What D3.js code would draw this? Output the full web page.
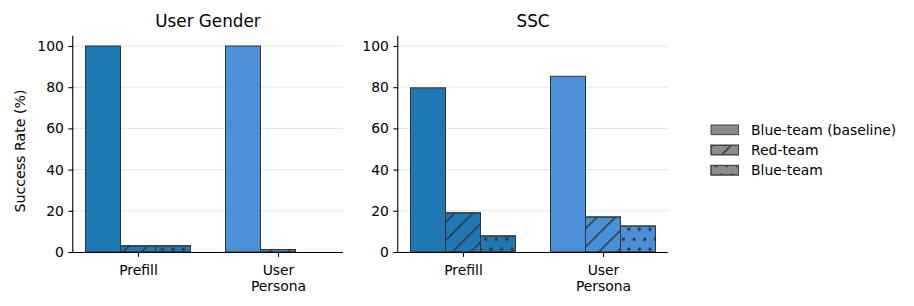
<!DOCTYPE html>
<html>
<head>
<meta charset="utf-8">
<script src="https://cdn.jsdelivr.net/npm/d3@7"></script>
<style>
  html, body { margin: 0; padding: 0; background: #fff; }
  svg { display: block; font-family: "DejaVu Sans", sans-serif; }
</style>
</head>
<body>
<svg id="chart" width="914" height="306"></svg>
<script>
// ---- data ----
const panelTitles = ["User Gender", "SSC"];
const categories = ["Prefill", "User Persona"];
const categoryLabels = [["Prefill"], ["User", "Persona"]];
const seriesNames = ["Blue-team (baseline)", "Red-team", "Blue-team"];
const genderBaseline = [100, 100];
const genderRedTeam = [3, 1.2];
const genderBlueTeam = [3, 0];
const sscBaseline = [79.7, 85.3];
const sscRedTeam = [19, 17];
const sscBlueTeam = [7.8, 12.6];
const yTicks = [0, 20, 40, 60, 80, 100];
const categoryColors = ["#1f77b4", "#4a90d9"];

const panels = [
  { title: panelTitles[0], series: [genderBaseline, genderRedTeam, genderBlueTeam] },
  { title: panelTitles[1], series: [sscBaseline, sscRedTeam, sscBlueTeam] }
];

const svg = d3.select("#chart");
const defs = svg.append("defs");
const edge = "#333333";

// hatch patterns
const hs = 18.3;
const slash = defs.append("pattern").attr("id", "hatch-slash")
  .attr("patternUnits", "userSpaceOnUse").attr("width", hs).attr("height", hs)
  .attr("patternTransform", "translate(9,0)");
slash.append("path")
  .attr("d", `M${-hs/2},${hs/2} L${hs/2},${-hs/2} M0,${hs} L${hs},0 M${hs/2},${hs*1.5} L${hs*1.5},${hs/2}`)
  .attr("stroke", edge).attr("stroke-width", 1.5).attr("fill", "none");

const dw = 10.6, dh = 20;
const dots = defs.append("pattern").attr("id", "hatch-dots")
  .attr("patternUnits", "userSpaceOnUse").attr("width", dw).attr("height", dh)
  .attr("patternTransform", "translate(3.4,9.3)");
[[0,0],[dw,0],[0,dh],[dw,dh],[dw/2,dh/2]].forEach(([cx,cy]) => {
  dots.append("circle").attr("cx", cx).attr("cy", cy).attr("r", 1.7).attr("fill", edge);
});

const hatchFill = [null, "url(#hatch-slash)", "url(#hatch-dots)"];
const offsets = [-0.25, 0, 0.25];
const barW = 0.25;

const y = d3.scaleLinear().domain([0, 105]).range([252, 35.7]);
const axesX = [[73.25, 342.75], [398.25, 667.75]];

panels.forEach((p, pi) => {
  const x = d3.scaleLinear().domain([-0.4625, 1.4625]).range(axesX[pi]);
  const g = svg.append("g");

  // grid
  g.selectAll("line.grid").data(yTicks).enter().append("line")
    .attr("x1", axesX[pi][0]).attr("x2", axesX[pi][1])
    .attr("y1", d => y(d)).attr("y2", d => y(d))
    .attr("stroke", "#b0b0b0").attr("stroke-opacity", 0.3).attr("stroke-width", 1.1);

  // bars
  p.series.forEach((vals, si) => {
    const bars = g.selectAll(null).data(vals).enter();
    bars.append("rect")
      .attr("x", (d, i) => x(i + offsets[si] - barW / 2))
      .attr("width", (d, i) => x(i + offsets[si] + barW / 2) - x(i + offsets[si] - barW / 2))
      .attr("y", d => y(d))
      .attr("height", d => y(0) - y(d))
      .attr("fill", (d, i) => categoryColors[i])
      .attr("stroke", edge).attr("stroke-width", 1);
    if (hatchFill[si]) {
      bars.append("rect")
        .attr("x", (d, i) => x(i + offsets[si] - barW / 2))
        .attr("width", (d, i) => x(i + offsets[si] + barW / 2) - x(i + offsets[si] - barW / 2))
        .attr("y", d => y(d))
        .attr("height", d => y(0) - y(d))
        .attr("fill", hatchFill[si])
        .attr("stroke", edge).attr("stroke-width", 1);
    }
  });

  // y axis
  const yAxis = d3.axisLeft(y).tickValues(yTicks).tickSize(4.9).tickPadding(4.5);
  const ya = g.append("g").attr("transform", `translate(${axesX[pi][0]},0)`).call(yAxis);
  ya.select(".domain").attr("stroke", "#000").attr("stroke-width", 1.1)
    .attr("d", `M-0.5,${y(105)} V${y(0)}`);
  ya.selectAll(".tick line").attr("stroke", "#000").attr("stroke-width", 1.1);
  ya.selectAll(".tick text").attr("font-size", 13.9).attr("fill", "#000")
    .attr("font-family", "DejaVu Sans");

  // x axis
  const xAxis = d3.axisBottom(x).tickValues([0, 1]).tickSize(4.9).tickFormat("");
  const xa = g.append("g").attr("transform", `translate(0,${y(0)})`).call(xAxis);
  xa.select(".domain").attr("stroke", "#000").attr("stroke-width", 1.1)
    .attr("d", `M${axesX[pi][0] - 1},0.5 H${axesX[pi][1]}`);
  xa.selectAll(".tick line").attr("stroke", "#000").attr("stroke-width", 1.1);
  xa.selectAll(".tick").each(function(d) {
    const t = d3.select(this).append("text")
      .attr("fill", "#000").attr("font-size", 13.9).attr("text-anchor", "middle")
      .attr("font-family", "DejaVu Sans");
    categoryLabels[d].forEach((line, li) => {
      t.append("tspan").attr("x", 0).attr("y", 23 + li * 15.8).text(line);
    });
  });

  // title
  g.append("text")
    .attr("x", (axesX[pi][0] + axesX[pi][1]) / 2).attr("y", 26.5)
    .attr("text-anchor", "middle").attr("font-size", 16.8).attr("fill", "#000")
    .text(p.title);
});

// y label (figure-level, centred on the figure height)
svg.append("text")
  .attr("transform", `translate(24.5,151) rotate(-90)`)
  .attr("text-anchor", "middle").attr("font-size", 14.2).attr("fill", "#000")
  .text("Success Rate (%)");

// legend
const legendFills = [null, "url(#hatch-slash-leg)", "url(#hatch-dots-leg)"];
const legG = svg.append("g").attr("transform", "translate(711,125)");
const ls = defs.append("pattern").attr("id", "hatch-slash-leg")
  .attr("patternUnits", "userSpaceOnUse").attr("width", hs).attr("height", hs)
  .attr("patternTransform", "translate(5,-3)");
ls.append("path").attr("d", `M0,${hs} L${hs},0`).attr("stroke", edge).attr("stroke-width", 1.5);
const ld = defs.append("pattern").attr("id", "hatch-dots-leg")
  .attr("patternUnits", "userSpaceOnUse").attr("width", dw).attr("height", dh)
  .attr("patternTransform", "translate(5,0)");
[[0,0],[dw,0],[0,dh],[dw,dh],[dw/2,dh/2]].forEach(([cx,cy]) => {
  ld.append("circle").attr("cx", cx).attr("cy", cy).attr("r", 1.7).attr("fill", edge);
});

seriesNames.forEach((name, i) => {
  const row = legG.append("g").attr("transform", `translate(0,${i * 20.2})`);
  row.append("rect").attr("x", 0).attr("y", 0).attr("width", 27.5).attr("height", 9.6)
    .attr("fill", "#8c8c8c").attr("stroke", "#444").attr("stroke-width", 1);
  if (legendFills[i]) {
    row.append("rect").attr("x", 0).attr("y", 0).attr("width", 27.5).attr("height", 9.6)
      .attr("fill", legendFills[i]).attr("stroke", "#444").attr("stroke-width", 1);
  }
  row.append("text").attr("x", 40).attr("y", 9.8).attr("font-size", 13.9).attr("fill", "#000")
    .text(name);
});
</script>
</body>
</html>
